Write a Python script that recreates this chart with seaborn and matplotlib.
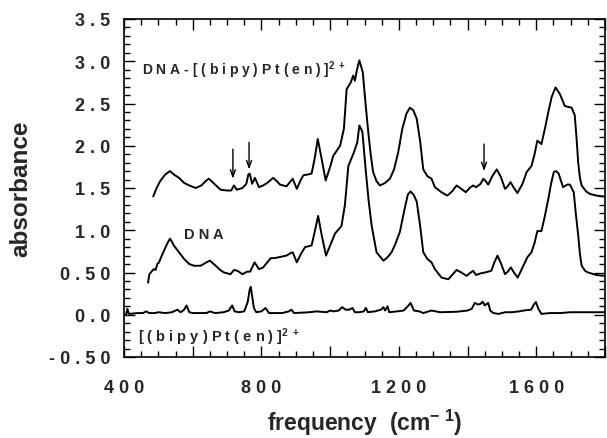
import matplotlib
matplotlib.use("Agg")
import matplotlib.pyplot as plt
import seaborn as sns
from matplotlib.ticker import FixedLocator, MultipleLocator

# ---- data ----
complex_x = [485, 495, 505, 520, 534, 545, 560, 575, 590, 609, 625, 640, 647, 660, 681, 700, 712, 720, 728, 745,
             756, 762, 766, 773, 781, 793, 805, 817, 834, 845, 854, 873, 891, 903, 915, 922, 935, 946, 955, 964,
             975, 987, 1000, 1009, 1029, 1040, 1048, 1060, 1067, 1072, 1078, 1085, 1095, 1103, 1111, 1118, 1125,
             1135, 1145, 1160, 1174, 1186, 1198, 1210, 1222, 1232, 1242, 1252, 1262, 1271, 1283, 1295, 1305, 1324,
             1341, 1355, 1368, 1382, 1395, 1406, 1416, 1425, 1438, 1446, 1453, 1460, 1472, 1485, 1497, 1509, 1517,
             1525, 1535, 1545, 1560, 1572, 1586, 1595, 1603, 1615, 1625, 1635, 1645, 1656, 1669, 1683, 1703, 1712,
             1717, 1722, 1727, 1732, 1745, 1756, 1775, 1795]
complex_y = [1.40, 1.50, 1.58, 1.66, 1.70, 1.66, 1.62, 1.56, 1.53, 1.50, 1.53, 1.59, 1.61, 1.56, 1.48, 1.47, 1.47,
             1.53, 1.48, 1.50, 1.55, 1.66, 1.67, 1.55, 1.62, 1.51, 1.53, 1.56, 1.62, 1.58, 1.54, 1.52, 1.61, 1.49,
             1.60, 1.65, 1.66, 1.67, 1.85, 2.08, 1.85, 1.59, 1.75, 1.88, 2.00, 2.20, 2.67, 2.75, 2.83, 2.77, 2.90,
             3.01, 2.87, 2.50, 2.16, 1.90, 1.69, 1.58, 1.53, 1.56, 1.61, 1.72, 1.92, 2.20, 2.38, 2.45, 2.42, 2.32,
             2.05, 1.72, 1.64, 1.61, 1.51, 1.45, 1.41, 1.46, 1.53, 1.49, 1.45, 1.50, 1.53, 1.51, 1.55, 1.61, 1.58,
             1.54, 1.64, 1.72, 1.63, 1.49, 1.52, 1.57, 1.50, 1.44, 1.55, 1.69, 1.76, 1.90, 2.06, 2.02, 2.20, 2.40,
             2.58, 2.69, 2.61, 2.47, 2.45, 2.36, 2.10, 1.80, 1.62, 1.53, 1.46, 1.43, 1.41, 1.40]

dna_x = [470, 474, 478, 482, 487, 492, 497, 502, 510, 521, 528, 534, 540, 545, 560, 575, 590, 604, 623, 640, 650,
         667, 680, 691, 710, 720, 730, 745, 758, 767, 773, 780, 793, 805, 817, 827, 837, 850, 861, 873, 885, 891,
         903, 915, 927, 946, 955, 965, 975, 988, 1000, 1014, 1033, 1043, 1053, 1069, 1079, 1085, 1090, 1094, 1104,
         1112, 1121, 1135, 1155, 1167, 1179, 1190, 1203, 1215, 1226, 1234, 1243, 1252, 1262, 1271, 1283, 1295,
         1305, 1324, 1344, 1355, 1368, 1382, 1397, 1406, 1416, 1425, 1438, 1451, 1469, 1478, 1487, 1497, 1509,
         1517, 1526, 1535, 1546, 1560, 1574, 1586, 1595, 1603, 1615, 1625, 1635, 1643, 1651, 1658, 1665, 1678,
         1690, 1698, 1709, 1715, 1722, 1727, 1732, 1742, 1751, 1775, 1799]
dna_y = [0.38, 0.48, 0.50, 0.52, 0.54, 0.53, 0.60, 0.62, 0.70, 0.80, 0.86, 0.90, 0.86, 0.82, 0.74, 0.66, 0.60, 0.58,
         0.58, 0.62, 0.64, 0.58, 0.53, 0.50, 0.48, 0.53, 0.52, 0.48, 0.51, 0.51, 0.56, 0.62, 0.54, 0.56, 0.62, 0.67,
         0.67, 0.68, 0.69, 0.70, 0.73, 0.74, 0.62, 0.72, 0.80, 0.82, 0.98, 1.17, 0.95, 0.70, 0.82, 0.96, 1.05, 1.30,
         1.76, 1.92, 2.04, 2.24, 2.20, 2.16, 1.69, 1.35, 1.05, 0.74, 0.64, 0.68, 0.74, 0.84, 0.98, 1.22, 1.42, 1.46,
         1.42, 1.34, 1.05, 0.74, 0.66, 0.62, 0.54, 0.44, 0.42, 0.47, 0.53, 0.50, 0.46, 0.49, 0.52, 0.47, 0.49, 0.50,
         0.52, 0.62, 0.70, 0.61, 0.48, 0.51, 0.56, 0.50, 0.44, 0.56, 0.68, 0.74, 0.85, 0.99, 0.99, 1.17, 1.37, 1.55,
         1.69, 1.70, 1.67, 1.51, 1.54, 1.54, 1.45, 1.20, 0.94, 0.72, 0.58, 0.52, 0.50, 0.47, 0.46]

pt_x = [400, 406, 410, 414, 440, 455, 465, 473, 490, 500, 520, 540, 555, 565, 575, 582, 590, 600, 640, 650, 665,
        690, 705, 715, 722, 735, 750, 760, 766, 769, 773, 778, 785, 800, 812, 822, 840, 860, 880, 887, 895, 940,
        960, 990, 1000, 1010, 1025, 1035, 1045, 1055, 1065, 1072, 1085, 1098, 1104, 1110, 1130, 1148, 1155, 1160,
        1167, 1172, 1195, 1214, 1226, 1234, 1244, 1260, 1271, 1295, 1320, 1367, 1400, 1412, 1421, 1431, 1438,
        1444, 1450, 1456, 1460, 1466, 1475, 1490, 1510, 1530, 1550, 1563, 1585, 1593, 1599, 1606, 1615, 1640,
        1670, 1700, 1750, 1800]
pt_y = [0.00, 0.00, 0.07, 0.01, 0.02, 0.02, 0.04, 0.02, 0.02, 0.03, 0.02, 0.03, 0.06, 0.03, 0.06, 0.11, 0.03, 0.02,
        0.02, 0.04, 0.02, 0.03, 0.05, 0.11, 0.04, 0.03, 0.04, 0.15, 0.30, 0.33, 0.22, 0.08, 0.03, 0.04, 0.08, 0.02,
        0.02, 0.02, 0.04, 0.06, 0.02, 0.03, 0.04, 0.03, 0.05, 0.04, 0.05, 0.09, 0.06, 0.06, 0.08, 0.03, 0.03, 0.04,
        0.08, 0.03, 0.04, 0.06, 0.09, 0.05, 0.10, 0.03, 0.04, 0.05, 0.10, 0.14, 0.05, 0.04, 0.02, 0.05, 0.03, 0.035,
        0.05, 0.07, 0.14, 0.12, 0.13, 0.155, 0.11, 0.13, 0.14, 0.05, 0.02, 0.01, 0.03, 0.03, 0.04, 0.05, 0.06, 0.12,
        0.15, 0.07, 0.01, 0.02, 0.02, 0.03, 0.03, 0.03]

arrow_x = [717, 764, 1448]
arrow_top = [1.96, 2.04, 2.02]
arrow_tip = [1.61, 1.72, 1.70]

xtick_vals = [400, 600, 800, 1000, 1200, 1400, 1600, 1800]
xtick_labels = ["4 0 0", "", "8 0 0", "", "1 2 0 0", "", "1 6 0 0", ""]
ytick_vals = [-0.5, 0.0, 0.5, 1.0, 1.5, 2.0, 2.5, 3.0, 3.5]
ytick_labels = ["- 0 . 5 0", "0 . 0", "0 . 5 0", "1 . 0", "1 . 5", "2 . 0", "2 . 5", "3 . 0", "3 . 5"]

sns.set_style("ticks")
plt.rcParams['font.family'] = ['Liberation Sans', 'DejaVu Sans']
plt.rcParams['font.weight'] = 'bold'
plt.rcParams['mathtext.fontset'] = 'custom'
plt.rcParams['mathtext.rm'] = 'Liberation Sans:bold'
plt.rcParams['mathtext.it'] = 'Liberation Sans:bold'
plt.rcParams['mathtext.bf'] = 'Liberation Sans:bold'

fig = plt.figure(figsize=(6.07, 4.39), dpi=100)
ax = fig.add_axes([124 / 607, 1 - 358 / 439, 481 / 607, 338 / 439])

for xs, ys in [(complex_x, complex_y), (dna_x, dna_y), (pt_x, pt_y)]:
    sns.lineplot(x=xs, y=ys, sort=False, estimator=None, color="black", lw=1.4, ax=ax)

for x, top, tip in zip(arrow_x, arrow_top, arrow_tip):
    ax.annotate("", xy=(x, tip), xytext=(x, top),
                arrowprops=dict(arrowstyle="->,head_length=0.5,head_width=0.18", color="black", lw=1.0,
                                shrinkA=0, shrinkB=0))

ax.text(452, 2.91, "D N A - [ ( b i p y ) P t ( e n ) ]$^{2\\ +}$", fontsize=10, va="center", ha="left")
ax.text(575, 0.955, "D N A", fontsize=10.5, va="center", ha="left")
ax.text(441, -0.25, "[ ( b i p y ) P t ( e n ) ]$^{2\\ +}$", fontsize=10.5, va="center", ha="left")

ax.set_xlim(400, 1800)
ax.set_ylim(-0.5, 3.5)
ax.xaxis.set_major_locator(FixedLocator(xtick_vals))
ax.set_xticklabels(xtick_labels)
ax.xaxis.set_minor_locator(MultipleLocator(50))
ax.yaxis.set_major_locator(FixedLocator(ytick_vals))
ax.set_yticklabels(ytick_labels)
ax.yaxis.set_minor_locator(MultipleLocator(0.1))

ax.tick_params(which="both", direction="in", top=True, right=True, color="black", width=1.0)
ax.tick_params(which="major", length=8)
ax.tick_params(which="minor", length=4)
ax.tick_params(axis="y", which="major", pad=10, labelsize=13)
ax.tick_params(axis="x", which="major", pad=16, labelsize=13)
for s in ax.spines.values():
    s.set_linewidth(1.2)
    s.set_color("black")

ax.set_xlabel("frequency  (cm$^{-\\ 1}$)", fontsize=16.5, fontweight="bold")
ax.set_ylabel("absorbance", fontsize=17.5, fontweight="bold")
ax.xaxis.set_label_coords(0.5, -0.148)
ax.yaxis.set_label_coords(-0.19, 0.5)
ax.xaxis.label.set_va("top")

fig.savefig("out.png", dpi=100)
plt.close()
